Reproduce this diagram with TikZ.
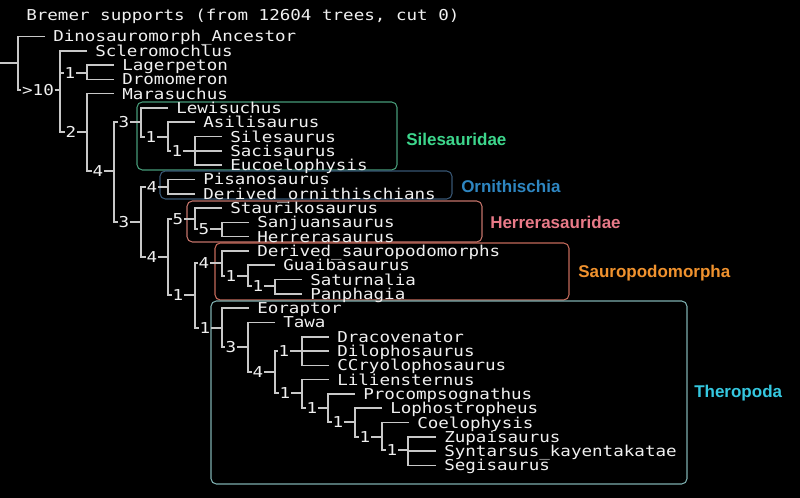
\documentclass[tikz,border=0pt]{standalone}
\usepackage{fontspec}
\usepackage{xcolor}
\usepackage{tikz}

\newfontfamily\tntfont[FakeStretch=1.17]{DejaVu Sans Mono}
\newfontfamily\cladefont{Liberation Sans}
\newcommand{\tnt}{\tntfont\fontsize{11.25pt}{13pt}\selectfont}
\newcommand{\cladelbl}{\cladefont\bfseries\fontsize{12.75pt}{15pt}\selectfont}

\definecolor{linegray}{RGB}{200,200,200}
\definecolor{txtwhite}{RGB}{240,240,240}
\definecolor{sileC}{RGB}{61,214,140}
\definecolor{sileBox}{RGB}{70,155,120}
\definecolor{ornC}{RGB}{46,134,193}
\definecolor{ornBox}{RGB}{55,85,115}
\definecolor{herC}{RGB}{232,122,136}
\definecolor{herBox}{RGB}{195,115,105}
\definecolor{sauC}{RGB}{240,146,46}
\definecolor{sauBox}{RGB}{195,105,90}
\definecolor{thC}{RGB}{53,200,224}
\definecolor{thBox}{RGB}{125,175,175}

\begin{document}
\begin{tikzpicture}[x=0.75pt, y=-0.75pt,
    branch/.style={draw=linegray, line width=1.2pt},
    taxon/.style={font=\tnt, text=txtwhite, anchor=west, inner xsep=6pt, inner ysep=0pt,
        text height=8.25pt, text depth=0pt},
    bs/.style={font=\tnt, text=txtwhite, inner xsep=0.4pt, inner ysep=0pt,
        text height=8.25pt, text depth=0pt},
    cladebox/.style={rounded corners=4pt, line width=0.8pt},
    clade/.style={font=\cladelbl, anchor=west, inner sep=0pt, text height=9pt, text depth=0pt}]

    % Nền
    \useasboundingbox (0,0) rectangle (800,498);
    \fill[black] (0,0) rectangle (800,498);

    % Tiêu đề
    \node[font=\tnt, text=txtwhite, anchor=west, inner sep=0pt] (title) at (26,16)
        {Bremer supports (from 12604 trees, cut 0)};

    % Khung các nhóm
    \draw[cladebox, draw=sileBox] (137,102) rectangle (397,170);
    \draw[cladebox, draw=ornBox] (160,171) rectangle (452,199);
    \draw[cladebox, draw=herBox] (187,201) rectangle (482,242);
    \draw[cladebox, draw=sauBox] (215,243) rectangle (569,300);
    \draw[cladebox, draw=thBox] (211,301) rectangle (687,484);

    \node[clade, text=sileC] (lSile) at (406,140) {Silesauridae};
    \node[clade, text=ornC] (lOrn) at (461,187) {Ornithischia};
    \node[clade, text=herC] (lHer) at (490,223) {Herrerasauridae};
    \node[clade, text=sauC] (lSau) at (578,272) {Sauropodomorpha};
    \node[clade, text=thC] (lTh) at (694,392) {Theropoda};

    % Các taxon
    \node[taxon] (tDino) at (45,36.5) {Dinosauromorph\_Ancestor};
    \node[taxon] (tScl) at (87,50.8) {Scleromochlus};
    \node[taxon] (tLag) at (114,65.1) {Lagerpeton};
    \node[taxon] (tDro) at (114,79.4) {Dromomeron};
    \node[taxon] (tMar) at (114,93.7) {Marasuchus};
    \node[taxon] (tLew) at (168,108.0) {Lewisuchus};
    \node[taxon] (tAsi) at (195,122.3) {Asilisaurus};
    \node[taxon] (tSil) at (222,136.6) {Silesaurus};
    \node[taxon] (tSac) at (222,150.9) {Sacisaurus};
    \node[taxon] (tEuc) at (222,165.2) {Eucoelophysis};
    \node[taxon] (tPis) at (195,179.5) {Pisanosaurus};
    \node[taxon] (tDor) at (195,193.8) {Derived\_ornithischians};
    \node[taxon] (tSta) at (222,208.1) {Staurikosaurus};
    \node[taxon] (tSan) at (249,222.4) {Sanjuansaurus};
    \node[taxon] (tHer) at (249,236.7) {Herrerasaurus};
    \node[taxon] (tDsa) at (249,251.0) {Derived\_sauropodomorphs};
    \node[taxon] (tGua) at (275,265.3) {Guaibasaurus};
    \node[taxon] (tSat) at (302,279.6) {Saturnalia};
    \node[taxon] (tPan) at (302,293.9) {Panphagia};
    \node[taxon] (tEor) at (249,308.2) {Eoraptor};
    \node[taxon] (tTaw) at (275,322.5) {Tawa};
    \node[taxon] (tDra) at (329,336.8) {Dracovenator};
    \node[taxon] (tDil) at (329,351.1) {Dilophosaurus};
    \node[taxon] (tCry) at (329,365.4) {CCryolophosaurus};
    \node[taxon] (tLil) at (329,379.7) {Liliensternus};
    \node[taxon] (tPro) at (355,394.0) {Procompsognathus};
    \node[taxon] (tLop) at (382,408.3) {Lophostropheus};
    \node[taxon] (tCoe) at (409,422.6) {Coelophysis};
    \node[taxon] (tZup) at (436,436.9) {Zupaisaurus};
    \node[taxon] (tSyn) at (436,451.2) {Syntarsus\_kayentakatae};
    \node[taxon] (tSeg) at (436,465.5) {Segisaurus};

    % Chỉ số Bremer
    \node[bs] (bA) at (38,90) {>10};
    \node[bs] (bB1) at (70,73) {1};
    \node[bs] (bN2) at (71,132) {2};
    \node[bs] (bN4a) at (98,171) {4};
    \node[bs] (bS3) at (124,122) {3};
    \node[bs] (bS1a) at (151,137) {1};
    \node[bs] (bS1b) at (177,151) {1};
    \node[bs] (bN3b) at (124,222) {3};
    \node[bs] (bO4) at (152,187) {4};
    \node[bs] (bN4b) at (152,257) {4};
    \node[bs] (bH5) at (178,219) {5};
    \node[bs] (bH5b) at (204,229) {5};
    \node[bs] (bN1c) at (178,295) {1};
    \node[bs] (bP4) at (204,263) {4};
    \node[bs] (bP1a) at (231,276) {1};
    \node[bs] (bP1b) at (258,286) {1};
    \node[bs] (bT1) at (205,328) {1};
    \node[bs] (bT3) at (231,347) {3};
    \node[bs] (bT4) at (258,372) {4};
    \node[bs] (bT1a) at (284,351) {1};
    \node[bs] (bT1b) at (285,393) {1};
    \node[bs] (bT1c) at (312,408) {1};
    \node[bs] (bT1d) at (338,422) {1};
    \node[bs] (bT1e) at (365,437) {1};
    \node[bs] (bT1f) at (392,450) {1};

    % Điểm nối
    \coordinate (root) at (0,63);
    \coordinate (jR) at (18,63);
    \coordinate (jA) at (60,90);
    \coordinate (jB1) at (87,73);
    \coordinate (jN2) at (87,132);
    \coordinate (jN4a) at (114,171);
    \coordinate (jS3) at (141,122);
    \coordinate (jS1a) at (168,137);
    \coordinate (jS1b) at (195,151);
    \coordinate (jN3b) at (141,222);
    \coordinate (jO4) at (168,187);
    \coordinate (jN4b) at (168,257);
    \coordinate (jH5) at (195,219);
    \coordinate (jH5b) at (222,229);
    \coordinate (jN1c) at (195,295);
    \coordinate (jP4) at (222,263);
    \coordinate (jP1a) at (248,276);
    \coordinate (jP1b) at (275,286);
    \coordinate (jT1) at (222,328);
    \coordinate (jT3) at (248,347);
    \coordinate (jT4) at (275,372);
    \coordinate (jT1a) at (302,351);
    \coordinate (jT1b) at (302,393);
    \coordinate (jT1c) at (328,408);
    \coordinate (jT1d) at (355,422);
    \coordinate (jT1e) at (382,437);
    \coordinate (jT1f) at (408,450);

    % Nhánh cây
    \draw[branch] (root) -- (jR);
    \foreach \c in {tDino,bA} \draw[branch] (\c.west) -| (jR);
    \foreach \b/\kids in {A/{tScl,bB1,bN2}, B1/{tLag,tDro}, N2/{tMar,bN4a},
        N4a/{bS3,bN3b}, S3/{tLew,bS1a}, S1a/{tAsi,bS1b}, S1b/{tSil,tSac,tEuc},
        N3b/{bO4,bN4b}, O4/{tPis,tDor}, N4b/{bH5,bN1c}, H5/{tSta,bH5b},
        H5b/{tSan,tHer}, N1c/{bP4,bT1}, P4/{tDsa,bP1a}, P1a/{tGua,bP1b},
        P1b/{tSat,tPan}, T1/{tEor,bT3}, T3/{tTaw,bT4}, T4/{bT1a,bT1b},
        T1a/{tDra,tDil,tCry}, T1b/{tLil,bT1c}, T1c/{tPro,bT1d}, T1d/{tLop,bT1e},
        T1e/{tCoe,bT1f}, T1f/{tZup,tSyn,tSeg}} {
        \draw[branch] (b\b.east) -- (j\b);
        \foreach \c in \kids \draw[branch] (\c.west) -| (j\b);
    }
\end{tikzpicture}
\end{document}
